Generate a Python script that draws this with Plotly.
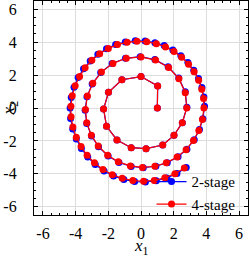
import plotly.graph_objects as go

# 4-stage solution (red)
x4 = [1.00, 1.02, 0.00, -1.17, -1.99, -2.29, -2.11, -1.47, -0.60, 0.31, 1.33, 2.02, 2.53,
      2.80, 2.71, 2.32, 1.69, 0.89, 0.00, -0.90, -1.72, -2.42, -2.95, -3.28, -3.40, -3.32,
      -3.04, -2.62, -2.04, -1.39, -0.65, 0.09, 0.85, 1.55, 2.21, 2.76, 3.21, 3.54, 3.76,
      3.85, 3.83, 3.72, 3.53, 3.25, 2.91, 2.49, 2.02, 1.50, 0.94, 0.35, -0.25, -0.85, -1.44,
      -2.00, -2.53, -3.01, -3.42, -3.76, -4.03, -4.21, -4.29, -4.28, -4.17, -3.96, -3.67,
      -3.30, -2.85, -2.33, -1.76, -1.15, -0.50, 0.16, 0.81, 1.46, 2.08, 2.65]
y4 = [0.00, 1.34, 1.91, 1.72, 0.95, -0.06, -1.11, -1.94, -2.41, -2.47, -2.25, -1.66, -0.89,
      0.00, 0.93, 1.78, 2.46, 2.91, 3.10, 3.02, 2.71, 2.18, 1.50, 0.73, -0.09, -0.89,
      -1.65, -2.31, -2.87, -3.27, -3.52, -3.61, -3.54, -3.33, -2.98, -2.53, -1.97, -1.36, -0.70,
      0.00, 0.57, 1.14, 1.68, 2.20, 2.66, 3.08, 3.43, 3.71, 3.91, 4.02, 4.05, 3.99, 3.85,
      3.61, 3.30, 2.90, 2.44, 1.92, 1.35, 0.74, 0.11, -0.53, -1.16, -1.77, -2.34,
      -2.87, -3.33, -3.73, -4.05, -4.27, -4.41, -4.45, -4.40, -4.24, -3.99, -3.65]

# 2-stage solution (blue)
x2 = [1.00, 1.02, 0.00, -1.17, -1.99, -2.29, -2.11, -1.47, -0.60, 0.31, 1.33, 2.02, 2.53,
      2.81, 2.71, 2.31, 1.66, 0.85, -0.05, -0.95, -1.77, -2.47, -2.99, -3.31, -3.42, -3.32,
      -3.03, -2.60, -2.01, -1.35, -0.60, 0.14, 0.91, 1.61, 2.27, 2.81, 3.26, 3.58, 3.79,
      3.89, 3.85, 3.73, 3.52, 3.23, 2.87, 2.44, 1.95, 1.42, 0.85, 0.25, -0.35, -0.96, -1.55,
      -2.11, -2.64, -3.11, -3.52, -3.85, -4.10, -4.27, -4.34, -4.31, -4.18, -3.96, -3.65,
      -3.26, -2.80, -2.26, -1.68, -1.05, -0.39, 0.27, 0.93, 1.58, 2.20, 2.77]
y2 = [0.00, 1.34, 1.91, 1.72, 0.95, -0.06, -1.11, -1.94, -2.41, -2.47, -2.25, -1.66, -0.89,
      0.04, 0.98, 1.82, 2.50, 2.94, 3.12, 3.02, 2.70, 2.15, 1.46, 0.68, -0.14, -0.94,
      -1.70, -2.36, -2.92, -3.31, -3.55, -3.63, -3.54, -3.32, -2.96, -2.50, -1.93, -1.31, -0.65,
      0.10, 0.67, 1.24, 1.79, 2.30, 2.76, 3.17, 3.52, 3.79, 3.97, 4.07, 4.08, 4.01, 3.85,
      3.60, 3.27, 2.85, 2.38, 1.85, 1.26, 0.64, 0.00, -0.64, -1.28, -1.89, -2.46,
      -2.98, -3.43, -3.83, -4.13, -4.34, -4.47, -4.49, -4.42, -4.25, -3.98, -3.62]

tick_vals = [-6, -4, -2, 0, 2, 4, 6]
tick_text = ["-6", "-4", "-2", "0", "2", "4", "6"]
x_title = "<i>x</i><sub>1</sub>"
y_title = "<i>x</i><sub>2</sub>"

FONT = "Liberation Serif"

fig = go.Figure()
fig.add_trace(go.Scatter(x=x2, y=y2, mode="lines+markers", name="2-stage",
                         line=dict(color="#0000ff", width=1.2),
                         marker=dict(color="#0000ff", size=7)))
fig.add_trace(go.Scatter(x=x4, y=y4, mode="lines+markers", name="4-stage",
                         line=dict(color="#ff0000", width=1.2),
                         marker=dict(color="#ff0000", size=7)))

axis_common = dict(
    tickvals=tick_vals, ticktext=tick_text,
    showgrid=True, gridcolor="#dddddd", gridwidth=1,
    zeroline=False, showline=True, linecolor="black", linewidth=1.3, mirror="ticks",
    ticks="inside", ticklen=4, tickwidth=1, tickcolor="black",
    minor=dict(dtick=0.5, tick0=0, ticks="inside", ticklen=2, tickcolor="black", showgrid=False),
    tickfont=dict(family=FONT, size=16, color="black"),
)
fig.update_xaxes(range=[-6.55, 6.55], ticklabelstandoff=4, **axis_common)
fig.update_yaxes(range=[-6.5, 6.5], ticklabelstandoff=13, **axis_common)

fig.add_annotation(text=x_title, xref="paper", yref="paper", x=0.5, y=-0.19,
                   xanchor="center", yanchor="bottom", yshift=-4, showarrow=False,
                   font=dict(family=FONT, size=17, color="black"))
fig.add_annotation(text=y_title, xref="paper", yref="paper", x=-0.157, y=0.5,
                   xanchor="left", yanchor="middle", xshift=-3, showarrow=False, textangle=-90,
                   font=dict(family=FONT, size=17, color="black"))

fig.update_layout(
    width=249, height=256,
    margin=dict(l=34, r=1, t=1, b=41),
    paper_bgcolor="white", plot_bgcolor="white",
    showlegend=True,
    legend=dict(x=0.965, y=-0.025, xanchor="right", yanchor="bottom",
                bgcolor="rgba(255,255,255,0)", borderwidth=0,
                font=dict(family=FONT, size=15, color="black"),
                tracegroupgap=0),
)

fig.write_html("out.html", config={"displayModeBar": False},
               post_script="document.body.style.margin='0';")
